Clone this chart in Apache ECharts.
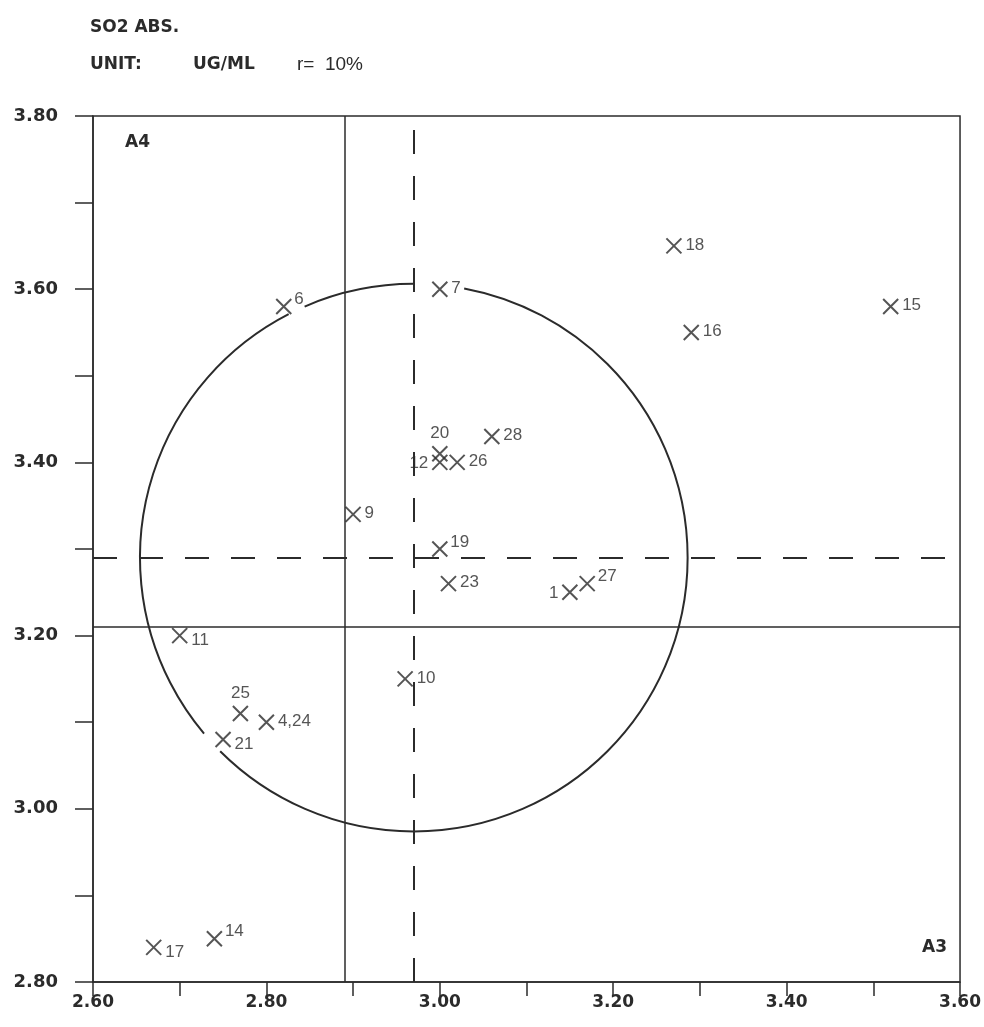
<!DOCTYPE html>
<html>
<head>
<meta charset="utf-8">
<script src="https://cdn.jsdelivr.net/npm/echarts@6/dist/echarts.min.js"></script>
<style>
  html, body { margin: 0; padding: 0; background: #fff; }
  #chart { width: 984px; height: 1027px; }
</style>
</head>
<body>
<div id="chart"></div>
<script>
// Laboratory results, SO2 absorbance: sample A3 (x) against sample A4 (y)
const LAB_IDS   = ['1', '4,24', '6', '7', '9', '10', '11', '12', '14', '15', '16',
                   '17', '18', '19', '20', '21', '23', '25', '26', '27', '28'];
const A3_VALUES = [3.15, 2.80, 2.82, 3.00, 2.90, 2.96, 2.70, 3.00, 2.74, 3.52, 3.29,
                   2.67, 3.27, 3.00, 3.00, 2.75, 3.01, 2.77, 3.02, 3.17, 3.06];
const A4_VALUES = [3.25, 3.10, 3.58, 3.60, 3.34, 3.15, 3.20, 3.40, 2.85, 3.58, 3.55,
                   2.84, 3.65, 3.30, 3.41, 3.08, 3.26, 3.11, 3.40, 3.26, 3.43];

// Reference values: medians (dashed), assigned values (solid)
const MEDIAN_A3 = 2.97;
const MEDIAN_A4 = 3.29;
const ASSIGNED_A3 = 2.89;
const ASSIGNED_A4 = 3.21;
// Circle of radius r = 10 % around the medians
const CIRCLE_RADIUS = 0.316;

// Axis tick labels
const X_TICKS = ['2.60', '2.80', '3.00', '3.20', '3.40', '3.60'];
const Y_TICKS = ['2.80', '3.00', '3.20', '3.40', '3.60', '3.80'];

// ---- drawing ----
const INK = '#2b2b2b';
const LABEL_FONT = '"Liberation Sans", Arial, sans-serif';
const AXIS_FONT = '"DejaVu Sans", sans-serif';
const HEAD_FONT = 'bold 17px "DejaVu Sans", sans-serif';

// where each lab number sits next to its cross
const LABEL_SIDE = {
  '1': 'l', '12': 'l', '20': 't', '25': 't',
  '19': 'ru', '27': 'ru', '14': 'ru', '6': 'ru',
  '11': 'rd', '21': 'rd', '17': 'rd'
};
const SIDE_STYLE = {
  r:  { position: 'right', distance: 3, offset: [0, -1] },
  ru: { position: 'right', distance: 2, offset: [0, -7] },
  rd: { position: 'right', distance: 3, offset: [0, 5] },
  l:  { position: 'left',  distance: 3, offset: [0, 1] },
  t:  { position: 'top',   distance: 3, offset: [0, 0] }
};

const points = LAB_IDS.map((id, i) => ({
  name: id,
  value: [A3_VALUES[i], A4_VALUES[i]],
  label: Object.assign({}, SIDE_STYLE[LABEL_SIDE[id] || 'r'])
}));

// gaps in the circle outline, in degrees (counter-clockwise from +x)
const CIRCLE_GAPS_DEG = [[79.4, 90], [113.5, 117.2], [220, 225]];

function renderCircle(params, api) {
  const c = api.coord([api.value(0), api.value(1)]);
  const s = api.size([api.value(2), api.value(2)]);
  const r = (s[0] + s[1]) / 2;
  const children = [];
  for (let k = 0; k < CIRCLE_GAPS_DEG.length; k++) {
    const a1 = CIRCLE_GAPS_DEG[k][1];
    let a2 = CIRCLE_GAPS_DEG[(k + 1) % CIRCLE_GAPS_DEG.length][0];
    if (a2 < a1) a2 += 360;
    children.push({
      type: 'arc',
      shape: { cx: c[0], cy: c[1], r: r,
               startAngle: -a1 * Math.PI / 180, endAngle: -a2 * Math.PI / 180,
               clockwise: false },
      style: { stroke: INK, lineWidth: 2, fill: null }
    });
  }
  return { type: 'group', children: children };
}

function tickLabel(list) {
  return function (v) {
    const t = v.toFixed(2);
    return list.indexOf(t) >= 0 ? t : '';
  };
}

const chart = echarts.init(document.getElementById('chart'), null, { renderer: 'canvas' });

chart.setOption({
  backgroundColor: '#ffffff',
  animation: false,
  grid: {
    left: 93, right: 22, top: 116, bottom: 45,
    show: true, borderColor: INK, borderWidth: 1.5, backgroundColor: 'transparent'
  },
  xAxis: {
    type: 'value', min: 2.6, max: 3.6, interval: 0.1,
    axisLine: { show: true, onZero: false, lineStyle: { color: INK, width: 1.5 } },
    axisTick: { show: true, inside: false, length: 14, lineStyle: { color: INK, width: 1.5 } },
    splitLine: { show: false },
    axisLabel: {
      formatter: tickLabel(X_TICKS), margin: 12,
      color: INK, fontFamily: AXIS_FONT, fontWeight: 'bold', fontSize: 17
    }
  },
  yAxis: {
    type: 'value', min: 2.8, max: 3.8, interval: 0.1,
    axisLine: { show: true, onZero: false, lineStyle: { color: INK, width: 1.5 } },
    axisTick: { show: true, inside: false, length: 18, lineStyle: { color: INK, width: 1.5 } },
    splitLine: { show: false },
    axisLabel: {
      formatter: tickLabel(Y_TICKS), margin: 35,
      color: INK, fontFamily: AXIS_FONT, fontWeight: 'bold', fontSize: 18
    }
  },
  graphic: [
    { type: 'text', left: 90, top: 19,
      style: { text: 'SO2 ABS.', fill: INK, font: HEAD_FONT } },
    { type: 'text', left: 90, top: 56,
      style: { text: 'UNIT:', fill: INK, font: HEAD_FONT } },
    { type: 'text', left: 193, top: 56,
      style: { text: 'UG/ML', fill: INK, font: HEAD_FONT } },
    { type: 'text', left: 297, top: 55,
      style: { text: 'r=  10%', fill: INK, font: '19px "Liberation Sans", Arial, sans-serif' } },
    { type: 'text', left: 125, top: 134,
      style: { text: 'A4', fill: INK, font: HEAD_FONT } },
    { type: 'text', left: 922, top: 939,
      style: { text: 'A3', fill: INK, font: HEAD_FONT } }
  ],
  series: [
    {
      type: 'line',
      data: [],
      silent: true,
      markLine: {
        silent: true,
        symbol: 'none',
        label: { show: false },
        data: [
          { xAxis: ASSIGNED_A3, lineStyle: { type: 'solid', width: 1.5, color: INK } },
          { yAxis: ASSIGNED_A4, lineStyle: { type: 'solid', width: 1.5, color: INK } },
          { xAxis: MEDIAN_A3, lineStyle: { type: [24, 22], width: 2, color: INK } },
          { yAxis: MEDIAN_A4, lineStyle: { type: [24, 22], width: 2, color: INK } }
        ]
      }
    },
    {
      type: 'custom',
      silent: true,
      clip: false,
      renderItem: renderCircle,
      data: [[MEDIAN_A3, MEDIAN_A4, CIRCLE_RADIUS]],
      z: 3
    },
    {
      type: 'scatter',
      symbol: 'path://M0,0L10,10M10,0L0,10',
      symbolSize: 15,
      itemStyle: { color: 'rgba(0,0,0,0)', borderColor: INK, borderWidth: 2 },
      label: {
        show: true,
        formatter: '{b}',
        color: INK,
        fontFamily: LABEL_FONT,
        fontSize: 17
      },
      data: points,
      z: 5
    }
  ]
});
</script>
</body>
</html>
